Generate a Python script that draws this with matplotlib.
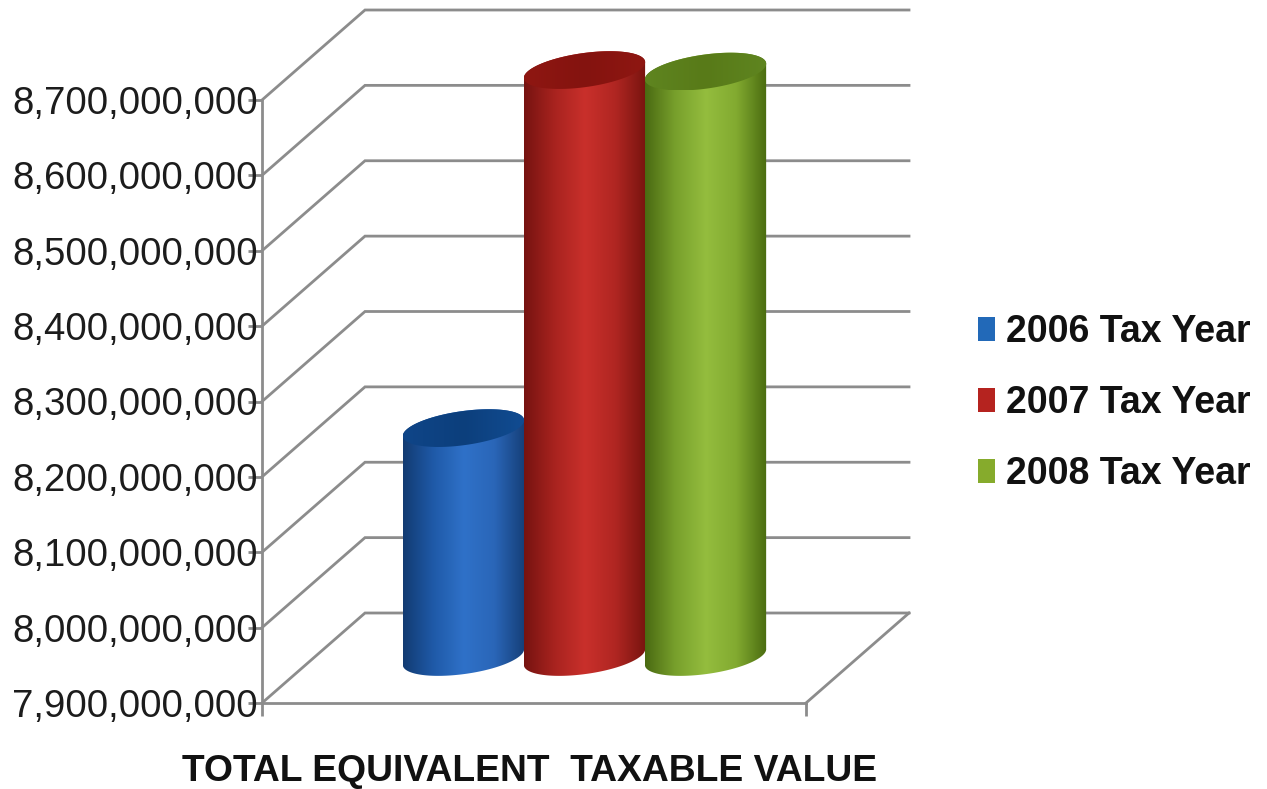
#!/usr/bin/env python3
import matplotlib
matplotlib.use('Agg')
import matplotlib.pyplot as plt
import numpy as np
from matplotlib.colors import LinearSegmentedColormap
from matplotlib.patches import Patch, Polygon
from matplotlib.ticker import FuncFormatter

series = ['2006 Tax Year', '2007 Tax Year', '2008 Tax Year']
values = [8205000000, 8680000000, 8678000000]
yticks = [7900000000, 8000000000, 8100000000, 8200000000, 8300000000,
          8400000000, 8500000000, 8600000000, 8700000000]
xlabel = 'TOTAL EQUIVALENT  TAXABLE VALUE'

legend_colors = ['#2269b8', '#b5231f', '#86ab2c']
body_colors = [['#123b72', '#1f5aa8', '#2f71c8', '#2a66b8', '#153f78'],
               ['#761310', '#a8231f', '#c9302b', '#b02622', '#78140f'],
               ['#4a6a12', '#78a02c', '#94bd3e', '#82aa30', '#4a6c10']]
top_colors = [['#0f4588', '#0c3f7c', '#114c92'],
              ['#8f1712', '#84130f', '#8f1712'],
              ['#5f8520', '#587a18', '#5f8520']]

W, H = 1267, 789
GRID = '#8c8c8c'
DX, DY = 103, 90          # depth of the fake 3d box, pixels
BAR_W = 0.2225
RADIUS = 0.1125
ELL_B = 17
TILT = np.radians(8)

plt.rcParams['font.family'] = ['Liberation Sans', 'DejaVu Sans']

fig = plt.figure(figsize=(W / 100, H / 100), dpi=100)
ax = fig.add_axes([262 / W, 1 - 703 / H, 544 / W, 603 / H], facecolor='none')
ax.set_xlim(0, 1)
ax.set_ylim(yticks[0], yticks[-1])
ax.set_yticks(yticks)
ax.set_xticks([0, 1])
ax.set_xticklabels([])
ax.yaxis.set_major_formatter(FuncFormatter(lambda v, p: format(int(v), ',')))
ax.tick_params(axis='y', labelsize=27.6, length=10, width=2, color=GRID,
               pad=-7, labelcolor='#1c1c1c')
ax.tick_params(axis='x', length=9, width=2, color=GRID)
for s in ['top', 'right']:
    ax.spines[s].set_visible(False)
for s in ['left', 'bottom']:
    ax.spines[s].set_color(GRID)
    ax.spines[s].set_linewidth(2)
ax.set_xlabel(xlabel, fontsize=26.8, fontweight='bold', color='#111111',
              x=0.4926, labelpad=24)

# overlay in pixel coordinates for the depth lines and cylinders
px = fig.add_axes([0, 0, 1, 1], facecolor='none')
px.set_xlim(0, W)
px.set_ylim(H, 0)
px.axis('off')


def to_px(x, v):
    X, Y = ax.transData.transform((x, v))
    return X, H - Y


def ellipse(cx, cy, a, t):
    ex = a * np.cos(t)
    ey = ELL_B * np.sin(t)
    return (cx + ex * np.cos(TILT) - ey * np.sin(TILT),
            cy - ex * np.sin(TILT) - ey * np.cos(TILT))


for v in yticks:
    x0, y0 = to_px(0, v)
    x1, y1 = to_px(1, v)
    px.plot([x0, x0 + DX, x1 + DX], [y0, y0 - DY, y1 - DY], color=GRID, lw=2,
            solid_joinstyle='miter', zorder=1)
x0, y0 = to_px(1, yticks[0])
px.plot([x0, x0 + DX], [y0, y0 - DY], color=GRID, lw=2, zorder=1)


def fill_gradient(xs, ys, colors, zorder):
    cmap = LinearSegmentedColormap.from_list('c', colors)
    grad = np.linspace(0, 1, 256).reshape(1, -1)
    im = px.imshow(grad, cmap=cmap, aspect='auto', zorder=zorder,
                   extent=[min(xs), max(xs), max(ys), min(ys)])
    im.set_clip_path(Polygon(np.column_stack([xs, ys]), closed=True,
                             transform=px.transData))


a = RADIUS * 544
for i, v in enumerate(values):
    x = 0.5 + (i - 1) * BAR_W
    cx, base = to_px(x, yticks[0])
    cx, base = cx + DX / 2 - 1, base - DY / 2 - 1
    _, top = to_px(x, v)
    top = top - DY / 2

    # side wall: lower half of the base, then back over the top
    bx, by = ellipse(cx, base, a, np.linspace(np.pi, 2 * np.pi, 80))
    tx, ty = ellipse(cx, top, a, np.linspace(0, np.pi, 80))
    fill_gradient(np.r_[bx, tx], np.r_[by, ty], body_colors[i], 3 + i * 2)

    ex, ey = ellipse(cx, top, a, np.linspace(0, 2 * np.pi, 160))
    fill_gradient(ex, ey, top_colors[i], 4 + i * 2)

px.set_xlim(0, W)
px.set_ylim(H, 0)

handles = [Patch(facecolor=c, edgecolor='none') for c in legend_colors]
fig.legend(handles, series, loc='center left', bbox_to_anchor=(963 / W, 1 - 403 / H),
           frameon=False, prop={'size': 27, 'weight': 'bold'}, labelcolor='#111111',
           handlelength=0.45, handleheight=0.62, handletextpad=0.29, labelspacing=0.93,
           borderpad=0, borderaxespad=0.4)

plt.savefig('out.png', dpi=100)
